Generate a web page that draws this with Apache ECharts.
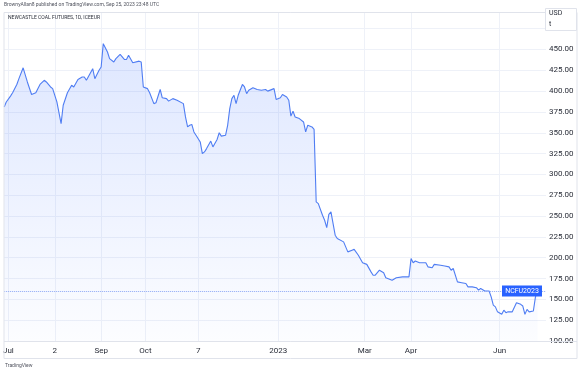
<!DOCTYPE html>
<html>
<head>
<meta charset="utf-8">
<script src="https://cdn.jsdelivr.net/npm/echarts@6/dist/echarts.min.js"></script>
<style>
html,body{margin:0;padding:0;background:#fff;}
#c{width:579px;height:373px;}
</style>
</head>
<body>
<div id="c"></div>
<script>
// trading-day index of each traced bar
const barIndex = [0,1,3,4,6,7,9,11,13,15,17,19,20,22,23,25,27,28,30,32,33,35,37,38,39,42,43,45,46,47,49,50,52,53,55,57,58,59,61,64,65,66,68,69,71,72,74,75,77,78,80,82,85,86,87,88,89,90,91,93,94,95,96,98,99,101,102,103,105,106,107,108,109,110,111,113,114,115,116,118,120,122,124,125,128,129,131,132,134,135,136,137,138,140,142,143,144,146,147,148,149,151,152,153,154,155,157,158,161,163,165,166,168,170,172,174,175,176,178,180,181,184,186,189,192,193,194,195,197,200,201,203,204,207,209,211,212,213,215,217,219,220,222,224,225,226,228,230,231,232,233,234,236,237,238,239,241,243,245,246,247,248,249,251,252,253];
// close price, USD/t
const closePrice = [381,387,394,398,408,415,428,411,396,398,408,413,411,405,403,387,361,383,398,407,405,414,417,417,413,427,415,425,429,457,447,439,435,439,444,438,438,443,434,436,435,405,403,398,385,386,402,392,391,388,391,389,385,369,357,359,360,351,347,339,325,327,331,340,333,342,350,346,347,359,379,391,395,385,395,408,405,397,401,404,402,401,402,400,403,390,392,396,393,389,370,376,369,367,363,351,359,357,354,267,265,251,245,236,252,255,227,223,219,207,209,210,203,194,192,183,179,179,185,182,176,173,176,177,177,199,194,196,194,194,189,188,192,191,190,189,185,187,171,170,169,165,165,164,161,163,160,160,153,143,141,135,132,137,134,135,135,146,144,142,132,138,135,136,153,160];
// x-axis tick labels and the bar index they sit on
const xTickIndex = [2,24,46,67,92,130,171,193,235];
const xTickLabels = ['Jul','2','Sep','Oct','7','2023','Mar','Apr','Jun'];
// y axis
const yMin = 100, yMax = 495, yStep = 25, yLabelTop = 450;
const xMax = 257;
const lastPrice = 160;
const symbolName = 'NCFU2023';
const titleText = 'NEWCASTLE COAL FUTURES, 1D, ICEEUR';
const headerText = 'BrownyAllan8 published on TradingView.com, Sep 25, 2023 23:48 UTC';
const footerText = 'TradingView';

const chart = echarts.init(document.getElementById('c'), null, {renderer: 'canvas'});
const FONT = 'Roboto, "Liberation Sans", sans-serif';
const seriesData = barIndex.map((x, i) => [x, closePrice[i]]);

chart.setOption({
  animation: false,
  backgroundColor: '#ffffff',
  grid: {left: 4, right: 33, top: 12, bottom: 32, containLabel: false},
  xAxis: {
    type: 'value', min: 0, max: xMax,
    axisLine: {show: false},
    axisTick: {show: false, customValues: xTickIndex},
    axisLabel: {
      customValues: xTickIndex,
      formatter: v => { const k = xTickIndex.indexOf(Math.round(v)); return k >= 0 ? xTickLabels[k] : ''; },
      color: '#2a2e39', fontSize: 8, fontFamily: FONT, margin: 6
    },
    splitLine: {show: true, lineStyle: {color: '#eef1f8', width: 1}}
  },
  yAxis: {
    type: 'value', position: 'right', min: yMin, max: yMax, interval: yStep,
    axisLine: {show: false}, axisTick: {show: false},
    axisLabel: {
      formatter: v => (v % yStep === 0 && v <= yLabelTop) ? v.toFixed(2) : '',
      color: '#2a2e39', fontSize: 8, fontFamily: FONT, margin: 3
    },
    splitLine: {show: true, lineStyle: {color: '#eef1f8', width: 1}}
  },
  series: [{
    type: 'line',
    data: seriesData,
    showSymbol: false,
    symbol: 'none',
    lineStyle: {color: '#4f7df3', width: 1.1},
    areaStyle: {
      color: new echarts.graphic.LinearGradient(0, 0, 0, 1, [
        {offset: 0, color: 'rgba(41,98,255,0.22)'},
        {offset: 1, color: 'rgba(41,98,255,0.02)'}
      ])
    },
    markLine: {
      silent: true, symbol: 'none',
      label: {show: false},
      lineStyle: {color: '#8fa9f5', type: 'dotted', width: 1},
      data: [{yAxis: lastPrice}]
    },
    markPoint: {
      silent: true,
      data: [{
        coord: [xMax, lastPrice],
        symbol: 'rect', symbolSize: [40, 11], symbolOffset: [-24, 0],
        itemStyle: {color: '#2962ff'},
        label: {show: true, position: 'inside', formatter: symbolName, color: '#ffffff', fontSize: 7, fontFamily: FONT}
      }]
    }
  }],
  graphic: [
    {type: 'rect', shape: {x: 4, y: 12.5, width: 573, height: 346}, style: {fill: 'none', stroke: '#e0e3eb', lineWidth: 1}, silent: true, z: 100},
    {type: 'line', shape: {x1: 4, y1: 341.5, x2: 577, y2: 341.5}, style: {stroke: '#e0e3eb', lineWidth: 1}, silent: true, z: 100},
    {type: 'rect', shape: {x: 545.5, y: 8.5, width: 31, height: 22}, style: {fill: '#ffffff', stroke: '#e0e3eb', lineWidth: 1}, silent: true, z: 101},
    {type: 'text', left: 549, top: 10, style: {text: 'USD', fontSize: 7, fill: '#2a2e39', fontFamily: FONT}, silent: true, z: 102},
    {type: 'text', left: 549, top: 21, style: {text: 't', fontSize: 7, fill: '#2a2e39', fontFamily: FONT}, silent: true, z: 102},
    {type: 'text', left: 4, top: 2, style: {text: headerText, fontSize: 5, fill: '#50535e', fontFamily: FONT}, silent: true, z: 102},
    {type: 'text', left: 8, top: 15, style: {text: titleText, fontSize: 5, fill: '#2a2e39', fontFamily: FONT}, silent: true, z: 102},
    {type: 'text', left: 5, top: 363, style: {text: footerText, fontSize: 5, fill: '#50535e', fontFamily: FONT}, silent: true, z: 102}
  ]
});
</script>
</body>
</html>
